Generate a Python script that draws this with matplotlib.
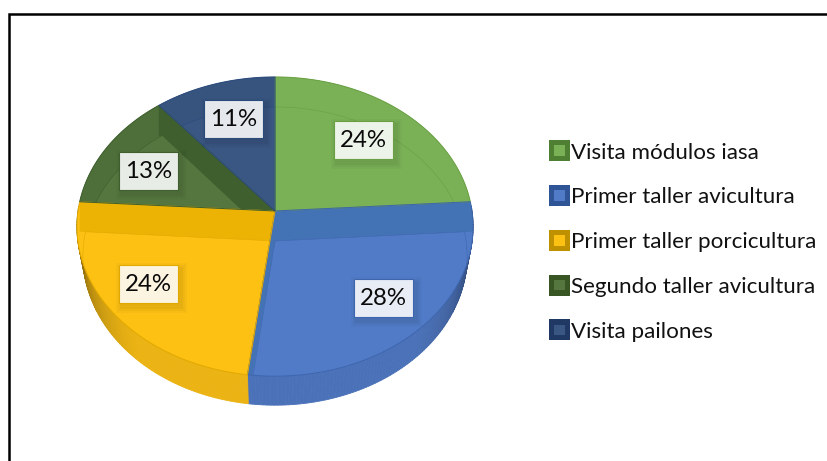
import numpy as np
import matplotlib
matplotlib.use("Agg")
import matplotlib.pyplot as plt
from matplotlib.patches import Polygon, Rectangle
from matplotlib.legend_handler import HandlerBase
from matplotlib.colors import to_rgb

categories = ["Visita módulos iasa", "Primer taller avicultura", "Primer taller porcicultura",
              "Segundo taller avicultura", "Visita pailones"]
values = [24, 28, 24, 13, 11]
labels = ["24%", "28%", "24%", "13%", "11%"]

face_colors = ["#7AB157", "#517BC7", "#FDC114", "#55773F", "#3A5783"]
band_colors = ["#7AB157", "#517BC7", "#FDC114", "#4E6F3A", "#37547F"]
wall_colors = ["#7AB157", "#4372B5", "#ECB204", "#3F5F2E", "#37547F"]
edge_colors = ["#6AA043", "#3E66AE", "#E0A800", "#3F5F2E", "#2B4A7C"]
legend_dark = ["#4F7F33", "#2F5597", "#BF9000", "#375623", "#1F3864"]
label_radius = [0.69, 0.76, 0.77, 0.72, 0.70]
label_turn = [0, 0, 2, -4, 1]

plt.rcParams["font.family"] = ["Lato", "DejaVu Sans"]
fig = plt.figure(figsize=(8.28, 4.61), dpi=100)
ax = fig.add_axes([0, 0, 1, 1])
ax.set_xlim(0, 828)
ax.set_ylim(461, 0)
ax.axis("off")

CX, CY, RX, RY, K = 275.0, 211.0, 197.0, 148.0, 0.104
DEPTH, LOWER_X = 30.0, 0.97


def screen(theta_deg, r=1.0, dy=0.0, sx=1.0):
    t = np.radians(theta_deg)
    u, v = r * np.sin(t), r * np.cos(t)
    s = 1.0 / (1.0 + K * v)
    return np.column_stack([CX + RX * u * s * sx, CY - RY * v * s + dy])


def wedge(a, b, r=1.0, dy=0.0, sx=1.0):
    arc = screen(np.linspace(a, b, 120), r, dy, sx)
    centre = screen(np.array([0.0]), 0.0, dy, sx)
    return np.vstack([centre, arc])


edges = 360 * np.concatenate([[0], np.cumsum(values)]) / np.sum(values)


def shade(theta):
    d = abs(theta - 180)
    return 0.93 if d < 40 else 0.93 - 0.45 * min(1, (d - 40) / 48) ** 1.3


# side of the disc
for i in range(5):
    a, b = edges[i], edges[i + 1]
    lo, hi = max(a, 88), min(b, 272)
    if hi <= lo:
        continue
    th = np.linspace(lo, hi, int(hi - lo) + 2)
    top, low = screen(th), screen(th, 1.0, DEPTH - 1, LOWER_X)
    base = np.array(to_rgb(face_colors[i]))
    for j in range(len(th) - 1):
        poly = np.vstack([top[j], top[j + 1], low[j + 1], low[j]])
        c = tuple(base * shade((th[j] + th[j + 1]) / 2))
        ax.add_patch(Polygon(poly, closed=True, fc=c, ec=c, lw=0.6, zorder=1))

# top of the disc: wall, band and face of each slice
for i in range(5):
    a, b = edges[i], edges[i + 1]
    outline = Polygon(wedge(a, b), closed=True, fc=wall_colors[i], ec="none", zorder=2)
    ax.add_patch(outline)
    band = wedge(a, b, 1.9, DEPTH)
    if 270 < b < 359:
        corner = screen(np.array([b]))
        band = np.vstack([band, corner, screen(np.array([b]), 1.0, DEPTH)])
    big = Polygon(band, closed=True, fc=band_colors[i], ec="none", zorder=3)
    ax.add_patch(big)
    big.set_clip_path(outline)
    inner = Polygon(wedge(a, b, 1.0, DEPTH, LOWER_X), closed=True, fc=face_colors[i],
                    ec=edge_colors[i], lw=0.4, zorder=4)
    ax.add_patch(inner)
    inner.set_clip_path(outline)
    ax.add_patch(Polygon(wedge(a, b), closed=True, fc="none", ec=edge_colors[i], lw=0.7, zorder=5))

# data labels
BW, BH = 59, 38
for i in range(5):
    mid = (edges[i] + edges[i + 1]) / 2 + label_turn[i]
    x, y = screen(np.array([mid]), label_radius[i])[0]
    for grow, al in [(6, 0.025), (4, 0.03), (2, 0.04)]:
        ax.add_patch(Rectangle((x - BW / 2 + 3 - grow, y - BH / 2 + 4 - grow), BW + 2 * grow, BH + 2 * grow,
                               fc="black", ec="none", alpha=al, zorder=6))
    ax.add_patch(Rectangle((x - BW / 2, y - BH / 2), BW, BH, fc="white", ec="none", alpha=0.88, zorder=7))
    ax.add_patch(Rectangle((x - BW / 2, y - BH / 2), BW, BH, fc="none", ec=edge_colors[i], lw=0.8, zorder=7))
    ax.text(x, y + 0.5, labels[i], ha="center", va="center", fontsize=17.3, color="#0a0a0a", zorder=8)


# legend
class SwatchHandler(HandlerBase):
    def create_artists(self, legend, orig, xd, yd, w, h, fontsize, trans):
        side = 21 * 0.72
        x0 = -xd + w - side
        y0 = -yd + h / 2 - side / 2
        outer = Rectangle((x0, y0), side, side, fc=orig[0], ec="none", transform=trans)
        m = side * 0.25
        inner = Rectangle((x0 + m, y0 + m), side - 2 * m, side - 2 * m, fc=orig[1], ec="none", transform=trans)
        return [outer, inner]


class Swatch(tuple):
    pass


handles = [Swatch((legend_dark[i], face_colors[i])) for i in range(5)]
leg = ax.legend(handles, categories, handler_map={Swatch: SwatchHandler()},
                loc="upper left", bbox_to_anchor=(548.5, 142.5), bbox_transform=ax.transData,
                frameon=False, fontsize=16.1, labelspacing=1.11, handlelength=0.97,
                handletextpad=0.02, borderpad=0, borderaxespad=0, labelcolor="#111111")

# picture frame
ax.plot([9.5, 9.5, 828], [461, 14, 14], color="black", lw=1.8, solid_joinstyle="miter", zorder=10)

fig.savefig("out.png", dpi=100)
